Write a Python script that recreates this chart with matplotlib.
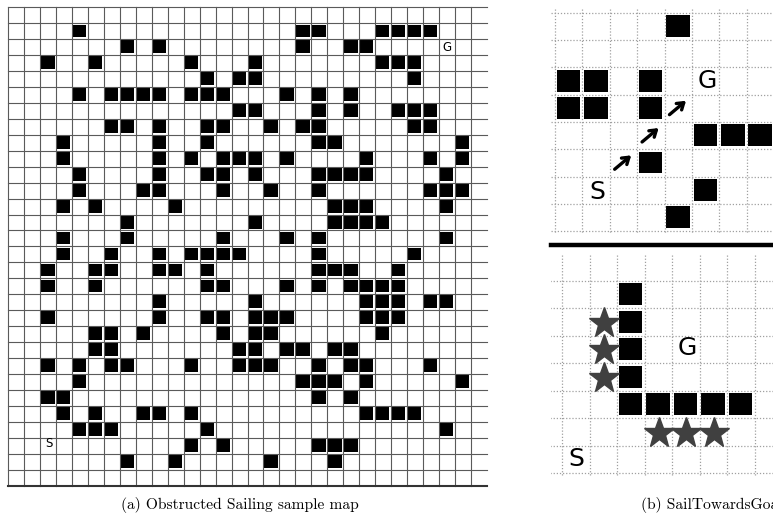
import matplotlib
matplotlib.use("Agg")
import matplotlib.pyplot as plt
from matplotlib.patches import Rectangle
from matplotlib.lines import Line2D

W, H = 773, 521

# (a) obstructed sailing map: 30 x 30 cells, blocked columns for each row
map_size = 30
map_rows = [
    [],
    [4, 18, 19, 23, 24, 25, 26],
    [7, 9, 18, 21, 22],
    [2, 5, 11, 15, 23, 24, 25],
    [12, 14, 15, 25],
    [4, 6, 7, 8, 9, 11, 12, 13, 17, 19, 21],
    [14, 15, 19, 21, 24, 25, 26],
    [6, 7, 9, 12, 13, 16, 18, 19, 25, 26],
    [3, 9, 12, 19, 20, 28],
    [3, 9, 11, 13, 14, 15, 17, 22, 26, 28],
    [4, 9, 12, 13, 15, 19, 20, 21, 22, 27],
    [4, 8, 9, 13, 16, 19, 26, 27, 28],
    [3, 5, 10, 20, 21, 22, 27],
    [7, 15, 20, 21, 22, 23],
    [3, 7, 13, 17, 19, 27],
    [3, 6, 9, 11, 12, 13, 14, 19, 25],
    [2, 5, 6, 9, 10, 12, 19, 20, 21, 24],
    [2, 5, 12, 13, 17, 19, 21, 22, 23, 24],
    [9, 15, 22, 23, 24, 26, 27],
    [2, 9, 12, 13, 15, 16, 17, 22, 23, 24],
    [5, 6, 8, 13, 15, 16, 23],
    [5, 6, 14, 15, 17, 18, 20, 21],
    [2, 4, 6, 7, 11, 14, 15, 16, 19, 21, 22, 26],
    [4, 18, 19, 20, 22, 28],
    [2, 3, 19, 21],
    [3, 5, 8, 9, 11, 22, 23, 24, 25],
    [4, 5, 6, 12, 27],
    [11, 13, 19, 20, 21],
    [7, 10, 16, 20],
    [],
]
map_start = (27, 2)   # (row, col)
map_goal = (2, 27)

# (b) SailTowardsGoal, upper example
top_blocks = [(0, 4), (2, 0), (2, 1), (2, 3), (3, 0), (3, 1), (3, 3),
              (4, 5), (4, 6), (4, 7), (5, 3), (6, 5), (7, 4)]
top_arrows = [(3, 4), (4, 3), (5, 2)]
top_start = (6, 1)
top_goal = (2, 5)

# (b) SailTowardsGoal, lower example
low_blocks = [(0, 2), (1, 2), (2, 2), (3, 2), (4, 2), (4, 3), (4, 4), (4, 5), (4, 6)]
low_stars = [(1, 1), (2, 1), (3, 1), (5, 3), (5, 4), (5, 5)]
low_start = (6, 0)
low_goal = (2, 4)

captions = ["(a) Obstructed Sailing sample map", "(b) SailTowardsGoal"]


def px_axes(fig, x0, y0, x1, y1):
    ax = fig.add_axes([x0 / W, 1 - y1 / H, (x1 - x0) / W, (y1 - y0) / H])
    ax.set_axis_off()
    return ax


fig = plt.figure(figsize=(W / 100, H / 100), dpi=100)

# ---- left map
ax = px_axes(fig, 8.3, 7.3, 486.7, 485.5)
ax.set_xlim(0, map_size)
ax.set_ylim(map_size, 0)
for k in range(map_size):
    ax.plot([k, k], [0, map_size], color="#5a5a5a", lw=0.8, clip_on=False)
for k in range(map_size):
    ax.plot([0, map_size], [k, k], color="#5a5a5a", lw=0.8, clip_on=False)
ax.plot([0, map_size], [map_size, map_size], color="#333333", lw=1.5, clip_on=False)
for r, cols in enumerate(map_rows):
    for c in cols:
        ax.add_patch(Rectangle((c + 0.04, r + 0.08), 0.86, 0.8, color="black", lw=0))
ax.text(map_start[1] + 0.55, map_start[0] + 0.35, "S", ha="center", va="center",
        fontsize=8.5, family="DejaVu Sans")
ax.text(map_goal[1] + 0.5, map_goal[0] + 0.5, "G", ha="center", va="center",
        fontsize=8.5, family="DejaVu Sans")

dot = dict(color="#a0a0a0", lw=0.9, ls=(0, (1, 1.5)))

# ---- upper right example
ax = px_axes(fig, 551, 8, 773, 234)
ax.set_xlim((551 - 555) / 27.4, (773 - 555) / 27.4)
ax.set_ylim((234 - 12.7) / 27.3, (8 - 12.7) / 27.3)
for k in range(9):
    ax.plot([k, k], [-0.15, 8.1], **dot)
    ax.plot([-0.15, 8.2], [k, k], **dot)
for i, j in top_blocks:
    ax.add_patch(Rectangle((j + 0.06, i + 0.09), 0.86, 0.8, color="black", lw=0))
for i, j in top_arrows:
    ax.annotate("", xy=(j + 0.86, i + 0.16), xytext=(j + 0.1, i + 0.8),
                arrowprops=dict(arrowstyle="->,head_length=0.45,head_width=0.3",
                                lw=2.4, color="black"))
ax.text(top_start[1] + 0.55, top_start[0] + 0.55, "S", ha="center", va="center",
        fontsize=18, family="DejaVu Sans")
ax.text(top_goal[1] + 0.55, top_goal[0] + 0.5, "G", ha="center", va="center",
        fontsize=18, family="DejaVu Sans")

fig.add_artist(Line2D([551 / W, 1.0], [1 - 245 / H, 1 - 245 / H], color="black", lw=3.2))

# ---- lower right example
ax = px_axes(fig, 551, 255, 773, 482)
ax.set_xlim((551 - 562.3) / 27.5, (773 - 562.3) / 27.5)
ax.set_ylim((482 - 280.7) / 27.5, (255 - 280.7) / 27.5)
for k in range(8):
    ax.plot([k, k], [-0.95, 7.1], **dot)
    ax.plot([-0.45, 7.7], [k, k], **dot)
for i, j in low_blocks:
    ax.add_patch(Rectangle((j + 0.05, i + 0.09), 0.86, 0.8, color="black", lw=0))
ax.plot([j + 0.5 for i, j in low_stars], [i + 0.52 for i, j in low_stars],
        ls="none", marker="*", ms=22.5, color="#404040", mec="#404040")
ax.text(low_start[1] + 0.5, low_start[0] + 0.5, "S", ha="center", va="center",
        fontsize=18, family="DejaVu Sans")
ax.text(low_goal[1] + 0.55, low_goal[0] + 0.45, "G", ha="center", va="center",
        fontsize=18, family="DejaVu Sans")

# ---- captions
fig.text(240 / W, 1 - 509 / H, captions[0], ha="center", va="baseline",
         fontsize=11.2, family="cmr10")
fig.text(641 / W, 1 - 509 / H, captions[1], ha="left", va="baseline",
         fontsize=11.2, family="cmr10")

fig.savefig("out.png", dpi=100)
